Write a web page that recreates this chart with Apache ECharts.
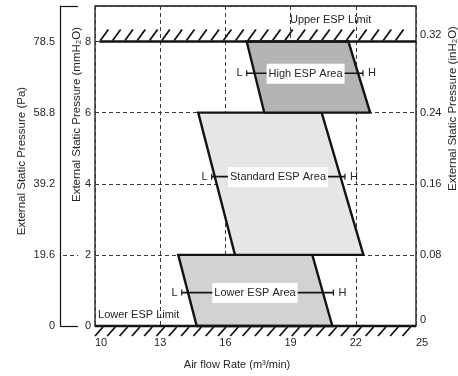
<!DOCTYPE html>
<html><head><meta charset="utf-8">
<script src="https://cdn.jsdelivr.net/npm/echarts@6/dist/echarts.min.js"></script>
<style>html,body{margin:0;padding:0;background:#fff}#c{width:458px;height:376px}</style>
</head><body><div id="c"></div>
<script>
// ---- data ----
const xTicks = ['10', '13', '16', '19', '22', '25'];
const mmTicks = ['0', '2', '4', '6', '8'];
const paTicks = ['0', '19.6', '39.2', '58.8', '78.5'];
const inTicks = ['0', '0.08', '0.16', '0.24', '0.32'];

const areaNames = ['Lower ESP Area', 'Standard ESP Area', 'High ESP Area'];
const areaYBottom = [0, 2, 6];
const areaYTop = [2, 6, 8];
const areaBottomLeft = [14.68, 16.44, 17.79];
const areaBottomRight = [20.92, 22.35, 22.66];
const areaTopLeft = [13.83, 14.75, 16.98];
const areaTopRight = [20.0, 20.43, 21.66];

const rangeY = [0.94, 4.2, 7.11];
const rangeLow = [13.99, 15.37, 16.98];
const rangeHigh = [20.97, 21.5, 22.33];
const rangeLabelX = [17.36, 18.42, 19.69];

const limitNames = ['Upper ESP Limit', 'Lower ESP Limit'];
const limitY = [8, 0];
const limitFrom = [10.2, 10];
const limitTo = [24.77, 24.77];
const limitTextX = [20.84, 10.14];
const limitTextY = [8.6, 0.31];

const xMin = 10, xMax = 24.77, yMax = 9;

// ---- styles ----
const font = '"Liberation Sans", Arial, sans-serif';
const txt = '#262626';
const ink = '#141414';
const areaFills = ['#d2d2d2', '#e6e6e6', '#b4b4b4'];
const dash = { type: [4, 3], color: '#3a3a3a', width: 1 };

const chart = echarts.init(document.getElementById('c'), null, { renderer: 'canvas' });

function renderArea(params, api) {
  const bl = api.coord([api.value(0), api.value(4)]);
  const br = api.coord([api.value(1), api.value(4)]);
  const tl = api.coord([api.value(2), api.value(5)]);
  const tr = api.coord([api.value(3), api.value(5)]);
  return {
    type: 'polygon',
    shape: { points: [bl, br, tr, tl] },
    style: { fill: areaFills[params.dataIndex], stroke: ink, lineWidth: 2.4, lineJoin: 'miter' }
  };
}

function renderLimit(params, api) {
  const i = params.dataIndex;
  const y = api.value(2);
  const a = api.coord([api.value(0), y]);
  const b = api.coord([api.value(1), y]);
  const t = api.coord([api.value(3), api.value(4)]);
  const up = i === 0;
  const children = [{ type: 'line', shape: { x1: a[0], y1: a[1], x2: b[0], y2: b[1] }, style: { stroke: ink, lineWidth: 2.6 } }];
  const start = up ? a[0] + 1 : a[0];
  for (let x = start; x <= b[0] - 9; x += 12.3) {
    if (up) children.push({ type: 'line', shape: { x1: x, y1: a[1] - 1, x2: x + 8, y2: a[1] - 12 }, style: { stroke: ink, lineWidth: 1.8 } });
    else children.push({ type: 'line', shape: { x1: x, y1: a[1] + 10, x2: x + 8, y2: a[1] + 1 }, style: { stroke: ink, lineWidth: 1.8 } });
  }
  children.push({ type: 'text', x: t[0], y: t[1], style: { text: limitNames[i], align: up ? 'center' : 'left', verticalAlign: 'middle', fontSize: 11, fill: txt, fontFamily: font } });
  return { type: 'group', children };
}

function renderRange(params, api) {
  const i = params.dataIndex;
  const y = api.value(2);
  const a = api.coord([api.value(0), y]);
  const b = api.coord([api.value(1), y]);
  const c = api.coord([api.value(3), y]);
  const ts = { fontSize: 11, fill: txt, fontFamily: font, verticalAlign: 'middle' };
  return {
    type: 'group', children: [
      { type: 'line', shape: { x1: a[0], y1: a[1], x2: b[0], y2: b[1] }, style: { stroke: ink, lineWidth: 1.6 } },
      { type: 'line', shape: { x1: a[0], y1: a[1] - 3, x2: a[0], y2: a[1] + 3 }, style: { stroke: ink, lineWidth: 1.2 } },
      { type: 'line', shape: { x1: b[0], y1: b[1] - 3, x2: b[0], y2: b[1] + 3 }, style: { stroke: ink, lineWidth: 1.2 } },
      { type: 'text', x: a[0] - 4, y: a[1], style: Object.assign({ text: 'L', align: 'right' }, ts) },
      { type: 'text', x: b[0] + 5, y: b[1], style: Object.assign({ text: 'H', align: 'left' }, ts) },
      { type: 'text', x: c[0], y: c[1] + 0.5, style: Object.assign({ text: areaNames[i], align: 'center', backgroundColor: '#fff', padding: [5, 2, 4, 2] }, ts) }
    ]
  };
}

const labelBase = { fontSize: 11, color: txt, fontFamily: font };
const nameBase = { fontSize: 11.5, color: txt, fontFamily: font };

const option = {
  animation: false,
  textStyle: { fontFamily: font },
  grid: { left: 95, right: 42, top: 6, bottom: 50, show: true, borderColor: ink, borderWidth: 1.3, outerBoundsMode: 'none', containLabel: false },
  xAxis: {
    type: 'value', min: xMin, max: xMax, interval: 3,
    axisLine: { show: false }, axisTick: { show: false },
    splitLine: { show: true, lineStyle: dash },
    axisLabel: Object.assign({
      margin: 11,
      formatter: function (v) {
        const k = Math.round((v - xMin) / 3);
        const s = xTicks[k] || '';
        return (k === 0 || k === xTicks.length - 1) ? '{s|' + s + '}' : s;
      },
      rich: { s: Object.assign({ padding: [0, 0, 0, 12] }, labelBase) }
    }, labelBase),
    name: 'Air flow Rate (m³/min)', nameLocation: 'middle', nameGap: 33, nameMoveOverlap: false,
    nameTextStyle: Object.assign({ padding: [0, 37, 0, 0] }, labelBase)
  },
  yAxis: [
    {
      type: 'value', min: 0, max: yMax, interval: 2, position: 'left',
      axisLine: { show: false }, axisTick: { show: false },
      splitLine: { show: true, lineStyle: dash },
      axisLabel: Object.assign({ margin: 4, formatter: v => mmTicks[v / 2] || '' }, labelBase),
      name: 'External Static Pressure (mmH₂O)', nameLocation: 'middle', nameGap: 12, nameMoveOverlap: false,
      nameTextStyle: Object.assign({ padding: [0, 0, 0, 103] }, nameBase)
    },
    {
      type: 'value', min: 0, max: yMax, interval: 2, position: 'left', offset: 35,
      axisLine: { show: true, lineStyle: { color: ink, width: 1.2 } },
      axisTick: { show: true, inside: true, length: 18, customValues: [0, yMax], lineStyle: { color: ink, width: 1.2 } },
      splitLine: { show: false },
      axisLabel: Object.assign({ margin: 5, formatter: v => paTicks[v / 2] || '' }, labelBase),
      name: 'External Static Pressure (Pa)', nameLocation: 'middle', nameGap: 32, nameMoveOverlap: false,
      nameTextStyle: Object.assign({ padding: [0, 0, 0, 10] }, nameBase)
    },
    {
      type: 'value', min: 0, max: yMax, interval: 2, position: 'left', offset: 32,
      axisLine: { show: false },
      axisTick: { show: true, inside: true, length: 15, customValues: [2], lineStyle: dash },
      splitLine: { show: false },
      axisLabel: { show: false }
    },
    {
      type: 'value', min: 0, max: yMax, interval: 2, position: 'right',
      axisLine: { show: false }, axisTick: { show: false }, splitLine: { show: false },
      axisLabel: Object.assign({
        margin: 4,
        formatter: function (v) {
          const k = Math.round(v / 2);
          const s = inTicks[k] || '';
          if (!s) return '';
          return (k === 0 || k === inTicks.length - 1) ? '{u|' + s + '}' : s;
        },
        rich: { u: Object.assign({ padding: [0, 0, 13, 0] }, labelBase) }
      }, labelBase),
      name: 'External Static Pressure (inH₂O)', nameLocation: 'middle', nameGap: 31, nameMoveOverlap: false,
      nameTextStyle: Object.assign({ padding: [0, 0, 0, 115] }, nameBase)
    }
  ],
  series: [
    {
      type: 'custom', renderItem: renderArea, clip: false, z: 2,
      data: areaNames.map((_, i) => [areaBottomLeft[i], areaBottomRight[i], areaTopLeft[i], areaTopRight[i], areaYBottom[i], areaYTop[i]])
    },
    {
      type: 'custom', renderItem: renderLimit, clip: false, z: 3,
      data: limitNames.map((_, i) => [limitFrom[i], limitTo[i], limitY[i], limitTextX[i], limitTextY[i]])
    },
    {
      type: 'custom', renderItem: renderRange, clip: false, z: 4,
      data: areaNames.map((_, i) => [rangeLow[i], rangeHigh[i], rangeY[i], rangeLabelX[i]])
    }
  ]
};
chart.setOption(option);
</script>
</body></html>
